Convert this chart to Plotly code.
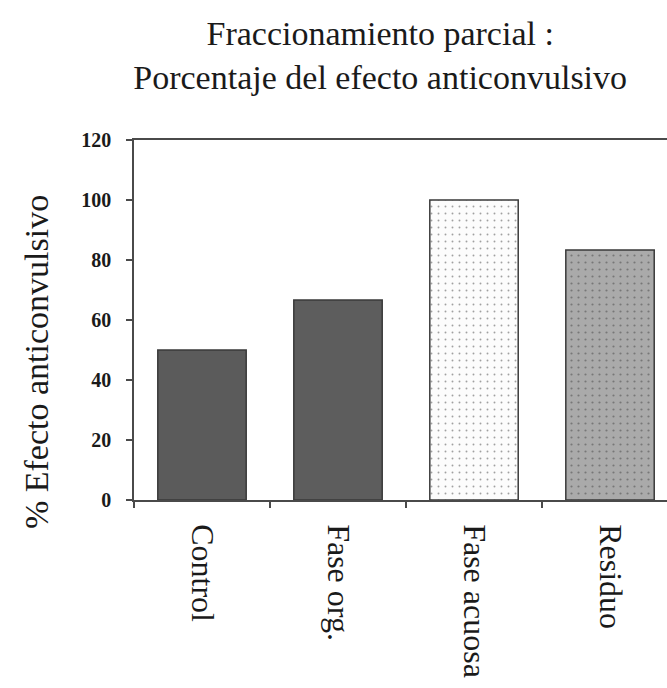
import plotly.graph_objects as go

# Fraccionamiento parcial: porcentaje del efecto anticonvulsivo por fracción
categorias = ["Control", "Fase org.", "Fase acuosa", "Residuo"]
efecto = [50, 66.7, 100, 83.3]
y_ticks = [0, 20, 40, 60, 80, 100, 120]

colores = ["#5b5b5b", "#5d5d5d", "#fcfcfc", "#aaaaaa"]
patron_forma = ["", "", ".", "."]
patron_fg = ["#555555", "#555555", "#9a9a9a", "#8c8c8c"]
patron_solidez = [0.1, 0.1, 0.06, 0.08]

SERIF = "Liberation Serif, Times New Roman, serif"

fig = go.Figure(
    go.Bar(
        x=categorias,
        y=efecto,
        width=0.65,
        marker=dict(
            color=colores,
            line=dict(color="#3a3a3a", width=1.5),
            pattern=dict(
                shape=patron_forma,
                size=7,
                fgcolor=patron_fg,
                solidity=patron_solidez,
                fillmode="overlay",
            ),
        ),
        hoverinfo="x+y",
    )
)

fig.update_layout(
    width=667,
    height=688,
    margin=dict(l=134, r=0, t=140, b=188),
    paper_bgcolor="white",
    plot_bgcolor="white",
    showlegend=False,
    title=dict(
        text="Fraccionamiento parcial :<br>Porcentaje del efecto anticonvulsivo",
        font=dict(family=SERIF, size=34, color="#1a1a1a"),
        x=0.57,
        xanchor="center",
        xref="container",
        y=0.935,
        yanchor="top",
        yref="container",
    ),
    annotations=[
        dict(
            text="% Efecto anticonvulsivo",
            xref="paper",
            yref="paper",
            x=-0.184,
            y=0.383,
            xanchor="center",
            yanchor="middle",
            textangle=-90,
            showarrow=False,
            font=dict(family=SERIF, size=34, color="#1a1a1a"),
        )
    ],
)

fig.update_xaxes(
    range=[-0.5, 3.419],
    showline=True,
    linecolor="#4a4a4a",
    linewidth=1.5,
    mirror=True,
    ticks="outside",
    tickson="boundaries",
    ticklen=6,
    tickwidth=1.5,
    tickcolor="#4a4a4a",
    tickangle=90,
    ticklabelstandoff=16,
    tickfont=dict(family=SERIF, size=32, color="#1a1a1a"),
    showgrid=False,
    zeroline=False,
)

fig.update_yaxes(
    range=[0, 120],
    tickvals=y_ticks,
    ticktext=[f"<b>{v}</b>" for v in y_ticks],
    showline=True,
    linecolor="#4a4a4a",
    linewidth=1.5,
    ticks="outside",
    ticklen=6,
    tickwidth=1.5,
    tickcolor="#4a4a4a",
    ticklabelstandoff=11,
    tickfont=dict(family=SERIF, size=20, color="#1a1a1a"),
    showgrid=False,
    zeroline=False,
)

fig.write_html("out.html")
